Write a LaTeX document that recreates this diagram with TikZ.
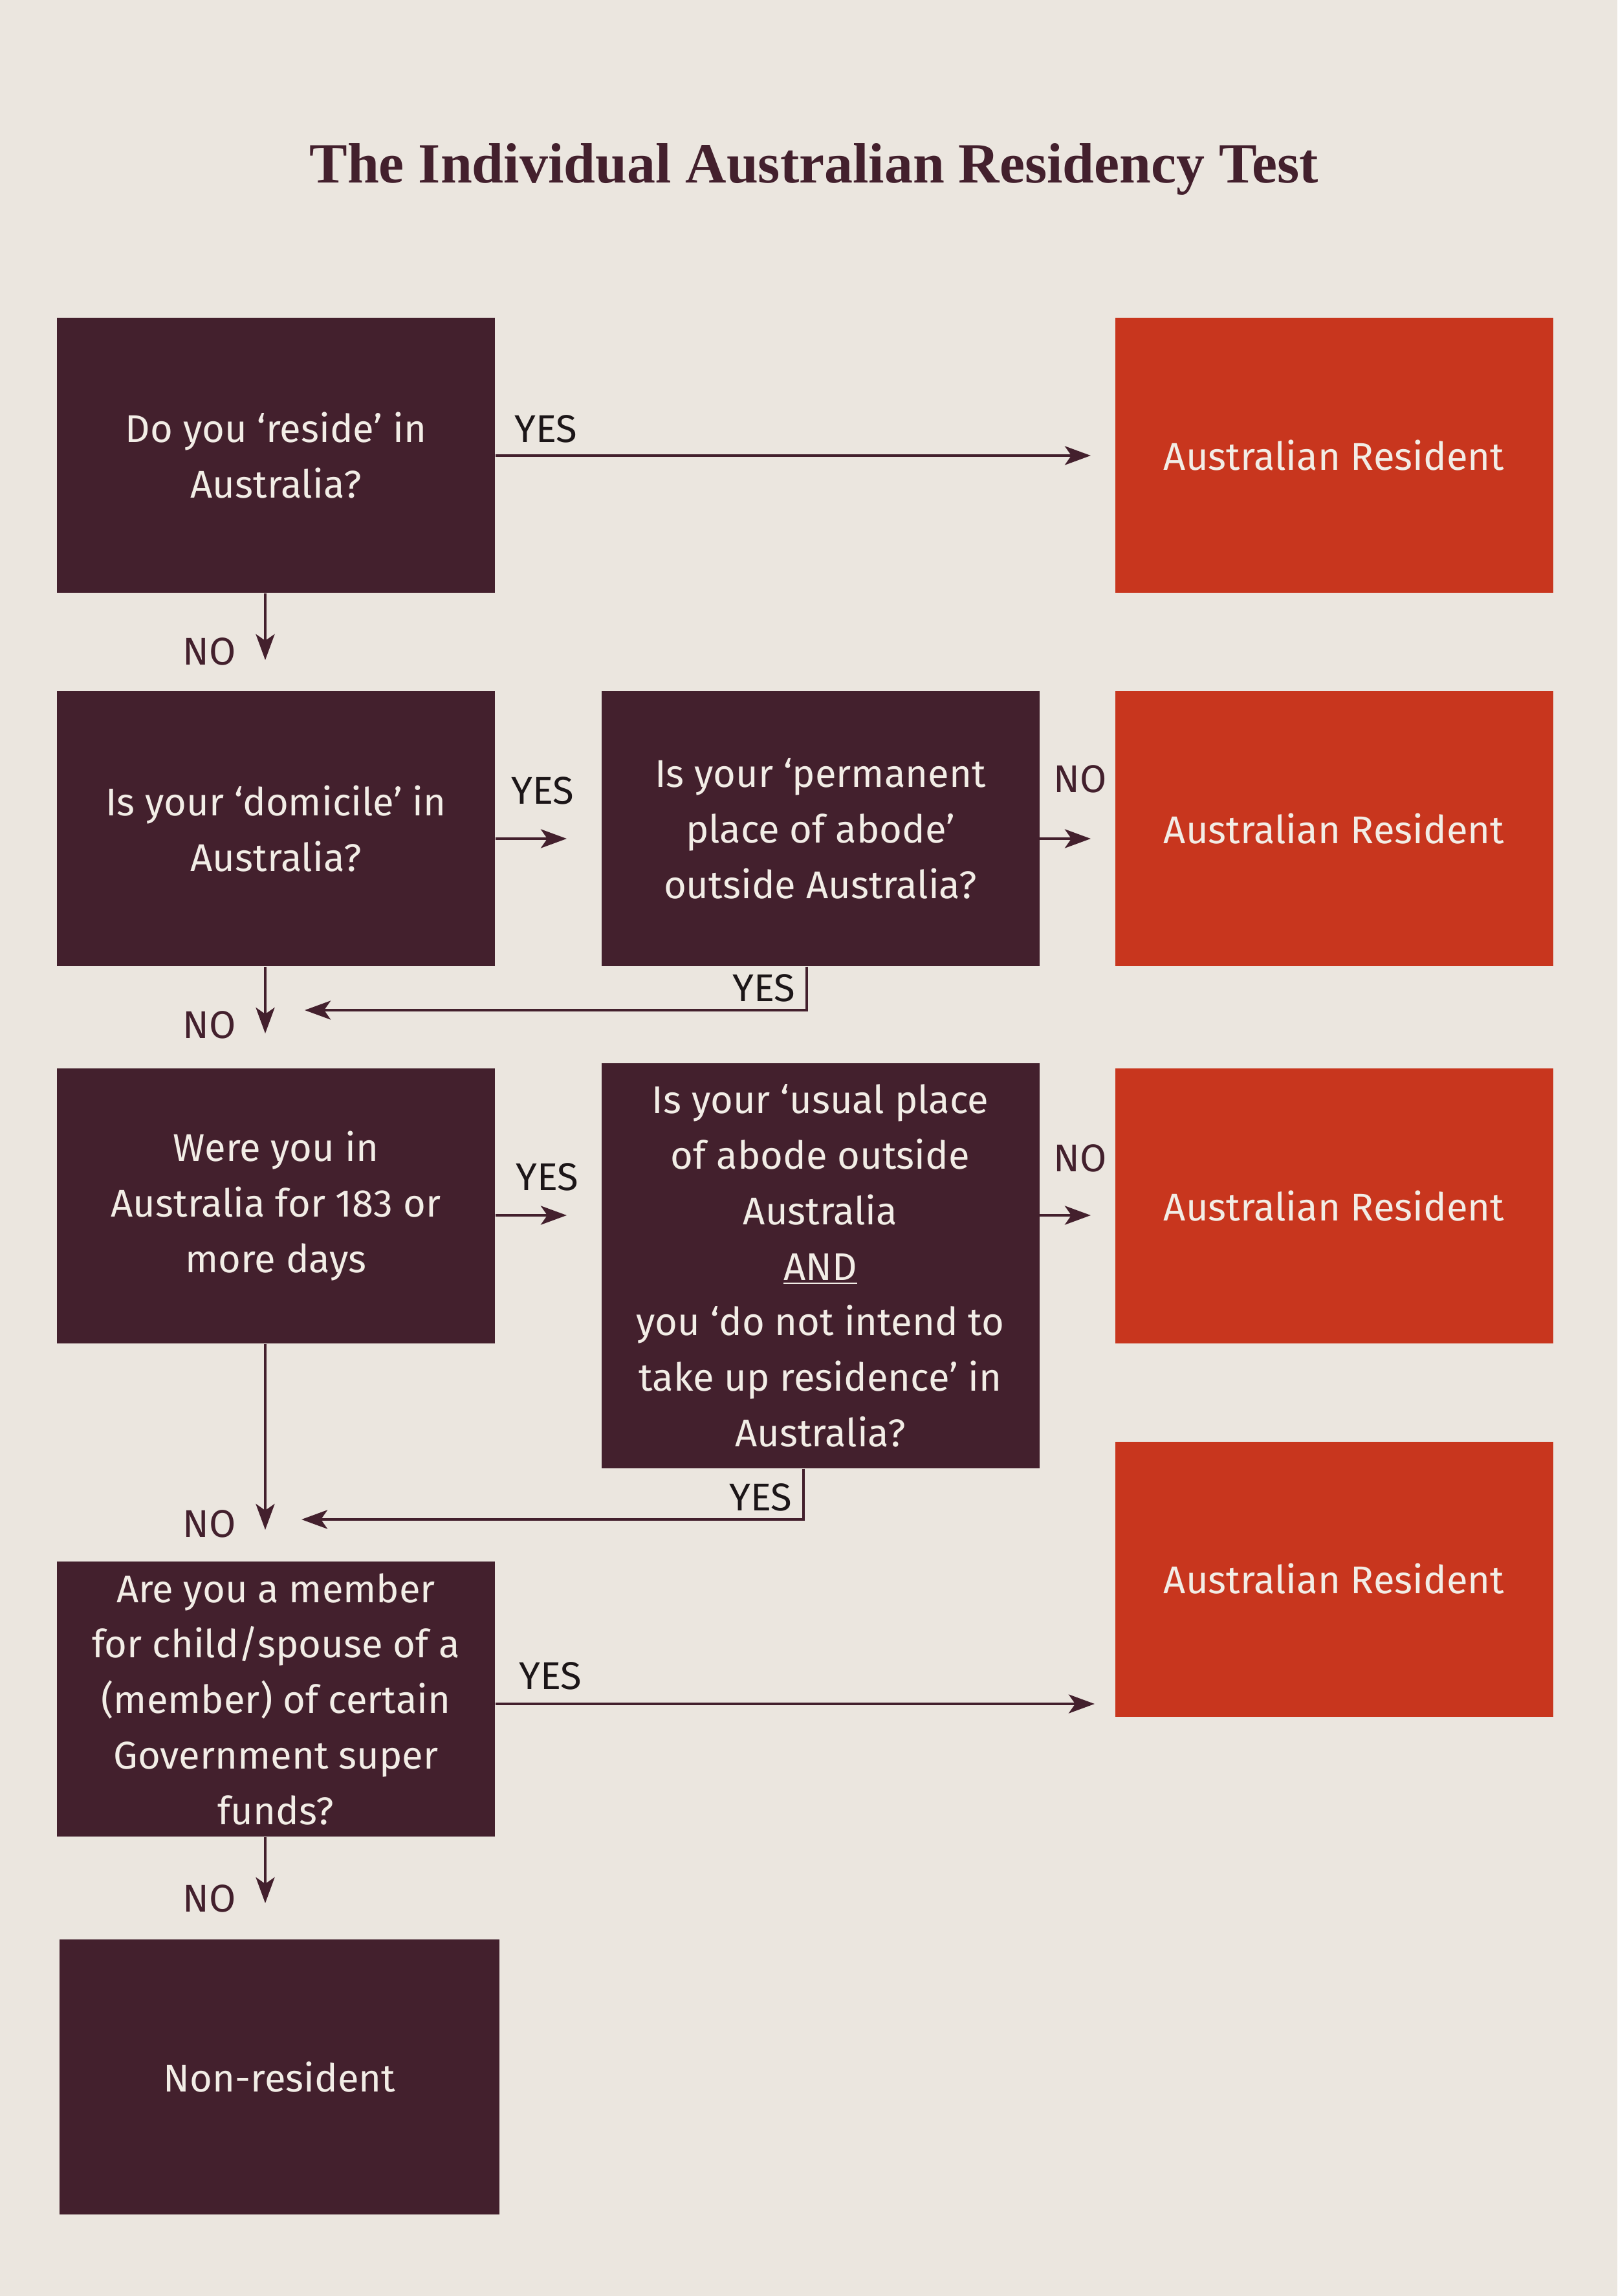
\documentclass[tikz,border=0pt]{standalone}
\usepackage{fontspec}
\setmainfont{Fira Sans}
\newfontfamily\titlefont{Liberation Serif}
\usepackage{xcolor}
\definecolor{artbg}{RGB}{235,230,223}
\definecolor{artmaroon}{RGB}{67,32,45}
\definecolor{artred}{RGB}{200,54,30}
\definecolor{artcream}{RGB}{242,237,230}
\definecolor{artink}{RGB}{28,22,24}
\usepackage{tikz}
\usetikzlibrary{arrows.meta, positioning}

\begin{document}
\begin{tikzpicture}[
  qbox/.style={fill=artmaroon, text=artcream, minimum width=6.77cm, minimum height=4.25cm,
    inner sep=0pt, align=center, font=\fontsize{17pt}{24.4pt}\selectfont},
  rbox/.style={qbox, fill=artred},
  yeslbl/.style={text=artink, font=\fontsize{17pt}{20pt}\selectfont},
  nolbl/.style={text=artmaroon, font=\fontsize{17pt}{20pt}\selectfont},
  arr/.style={draw=artmaroon, line width=0.045cm, -{Stealth[length=0.40cm, width=0.29cm, inset=0.1cm]}}
]
  \fill[artbg] (0,0) rectangle (25,-35.48);
  \node[text=artmaroon, font=\titlefont\bfseries\fontsize{25pt}{30pt}\selectfont] (title) at (12.58,-2.62)
    {The Individual Australian Residency Test};

  % questions
  \node[qbox] (q1) at (4.265,-7.035) {Do you ‘reside’ in\\Australia?};
  \node[qbox] (q2) at (4.265,-12.805) {Is your ‘domicile’ in\\Australia?};
  \node[qbox] (q2b) at (12.68,-12.805) {Is your ‘permanent\\place of abode’\\outside Australia?};
  \node[qbox] (q3) at (4.265,-18.635) {Were you in\\Australia for 183 or\\more days};
  \node[qbox, minimum height=6.26cm] (q3b) at (12.68,-19.56)
    {Is your ‘usual place\\of abode outside\\Australia\\\underline{AND}\\you ‘do not intend to\\take up residence’ in\\Australia?};
  \node[qbox] (q4) at (4.265,-26.255)
    {Are you a member\\for child/spouse of a\\(member) of certain\\Government super\\funds?};
  \node[qbox, minimum width=6.80cm] (nr) at (4.32,-32.095) {Non-resident};

  % outcomes
  \node[rbox] (r1) at (20.62,-7.035) {Australian Resident};
  \node[rbox] (r2) at (20.62,-12.805) {Australian Resident};
  \node[rbox] (r3) at (20.62,-18.635) {Australian Resident};
  \node[rbox] (r4) at (20.62,-24.40) {Australian Resident};

  % arrow ends
  \coordinate (e1) at (16.86,-7.04);
  \coordinate (d1) at (4.10,-10.20);
  \coordinate (e2) at (8.76,-12.96);
  \coordinate (e3) at (16.86,-12.96);
  \coordinate (d2) at (4.10,-15.97);
  \coordinate (b2) at (4.71,-15.61);
  \coordinate (e4) at (8.76,-18.78);
  \coordinate (e5) at (16.86,-18.78);
  \coordinate (d3) at (4.10,-23.64);
  \coordinate (b3) at (4.66,-23.48);
  \coordinate (e6) at (16.92,-26.33);
  \coordinate (d4) at (4.10,-29.41);

  \draw[arr] (q1.east |- e1) -- (e1);
  \draw[arr] (q1.south -| d1) -- (d1);
  \draw[arr] (q2.east |- e2) -- (e2);
  \draw[arr] (q2b.east |- e3) -- (e3);
  \draw[arr] (q2.south -| d2) -- (d2);
  \draw[arr] ([xshift=-0.21cm]q2b.south) |- (b2);
  \draw[arr] (q3.east |- e4) -- (e4);
  \draw[arr] (q3b.east |- e5) -- (e5);
  \draw[arr] (q3.south -| d3) -- (d3);
  \draw[arr] ([xshift=-0.26cm]q3b.south) |- (b3);
  \draw[arr] (q4.east |- e6) -- (e6);
  \draw[arr] (q4.south -| d4) -- (d4);

  % labels
  \node[yeslbl] (y1) at (8.44,-6.63) {YES};
  \node[nolbl] (n1) at (3.24,-10.07) {NO};
  \node[yeslbl] (y2) at (8.39,-12.22) {YES};
  \node[nolbl] (n2) at (16.70,-12.04) {NO};
  \node[nolbl] (n3) at (3.24,-15.84) {NO};
  \node[yeslbl] (y3) at (11.81,-15.27) {YES};
  \node[yeslbl] (y4) at (8.46,-18.19) {YES};
  \node[nolbl] (n4) at (16.70,-17.90) {NO};
  \node[nolbl] (n5) at (3.24,-23.55) {NO};
  \node[yeslbl] (y5) at (11.76,-23.14) {YES};
  \node[yeslbl] (y6) at (8.51,-25.90) {YES};
  \node[nolbl] (n6) at (3.24,-29.34) {NO};
\end{tikzpicture}
\end{document}
